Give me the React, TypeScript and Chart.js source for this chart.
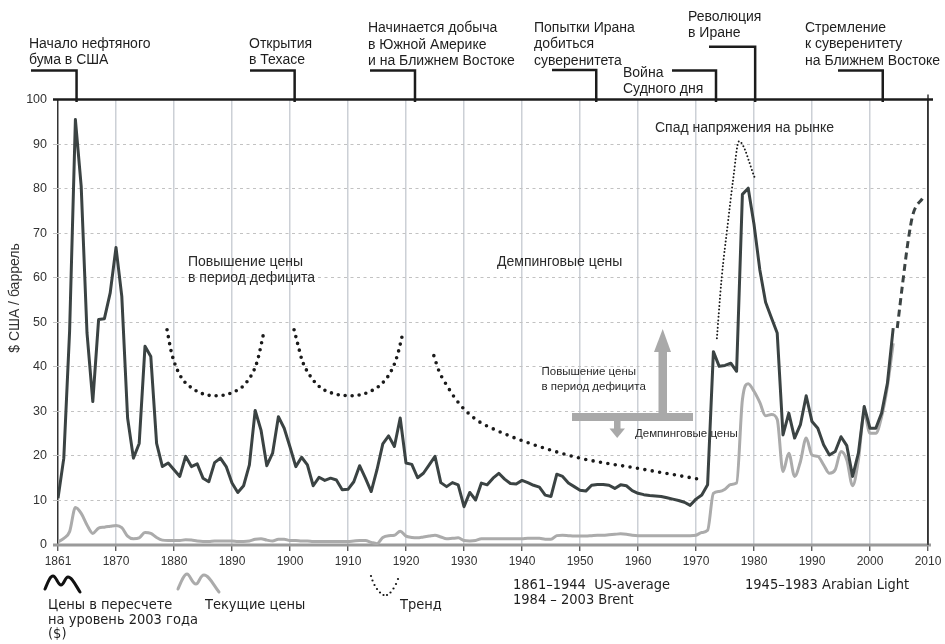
import React, { useEffect, useRef } from 'react';
import { Chart, registerables } from 'chart.js';

Chart.register(...registerables);

// Plot positions of the annual points (first point sits on the left axis, labelled "1861")
const FIRST_POS = 1860;

// Price in 2003 dollars ($/barrel), one value per year
const realPrices = [
  // 1860s
  10.5, 19.5, 48, 95.5, 80.5, 47.6, 32.2, 50.6, 50.8, 56.6,
  // 1870s
  66.8, 55.8, 28.5, 19.5, 22.8, 44.6, 42.3, 22.8, 17.6, 18.4,
  // 1880s
  16.9, 15.4, 19.9, 17.6, 18.2, 15, 14.2, 18.5, 19.5, 17.6,
  // 1890s
  13.9, 11.8, 13.3, 18, 30.2, 25.8, 17.8, 20.6, 28.8, 26.2,
  // 1900s
  22, 17.6, 19.7, 18, 13.3, 15.2, 14.5, 15, 14.6, 12.4,
  // 1910s
  12.5, 14.2, 17.8, 15, 12, 16.9, 22.7, 24.5, 22.1, 28.5,
  // 1920s
  18.4, 18.1, 15.1, 16.1, 18, 19.9, 14, 13.1, 14, 13.5,
  // 1930s
  8.6, 11.8, 10.1, 13.9, 13.5, 15, 16.1, 14.8, 13.8, 13.7,
  // 1940s
  14.5, 14, 13.4, 13, 11.2, 10.9, 15.9, 15.4, 13.9, 13.1,
  // 1950s
  12.3, 12.1, 13.4, 13.6, 13.6, 13.4, 12.7, 13.5, 13.3, 12.2,
  // 1960s
  11.6, 11.3, 11.1, 11, 10.9, 10.6, 10.3, 10, 9.6, 8.9,
  // 1970s
  10.3, 11.2, 13.5, 43.4, 40.1, 40.3, 40.8, 39, 78.7, 80.1,
  // 1980s
  72, 61.8, 54.5, 51, 47.6, 24.7, 29.6, 24, 27, 33.5,
  // 1990s
  27.7, 26.2, 22.5, 20.2, 21, 24.3, 22.3, 15.4, 20.6, 31.1,
  // 2000s
  26.2, 26.2, 29.6, 36.3, 48.7,
];

// Current (nominal) prices
const nominalPrices = [
  0.7, 1.5, 3, 8.4, 7.1, 4.5, 2.6, 3.8, 4, 4.2,
  4.4, 3.9, 2, 1.4, 1.6, 2.8, 2.6, 1.7, 1.1, 1,
  1, 1, 1.2, 1.1, 0.9, 0.8, 0.8, 0.9, 0.9, 0.9,
  0.9, 0.8, 0.8, 0.9, 1.3, 1.4, 1.1, 0.9, 1.3, 1.3,
  1, 1, 0.9, 0.9, 0.8, 0.8, 0.8, 0.8, 0.8, 0.8,
  0.8, 0.9, 1, 1, 0.6, 0.3, 1.7, 2.1, 2.2, 3.1,
  2, 1.7, 1.6, 1.8, 2, 2.2, 1.8, 1.4, 1.5, 1.6,
  1, 0.9, 1, 1.4, 1.4, 1.4, 1.4, 1.4, 1.4, 1.4,
  1.4, 1.5, 1.5, 1.5, 1.3, 1.3, 2.1, 2.2, 2.1, 2,
  2, 2, 2.1, 2.2, 2.2, 2.3, 2.4, 2.5, 2.4, 2.2,
  2.1, 2.1, 2.1, 2.1, 2.1, 2.1, 2.1, 2.1, 2.1, 2.1,
  2.2, 2.8, 3.3, 11.6, 12, 12.5, 13.6, 13.9, 32.6, 36.2,
  34.5, 32, 29, 29.3, 28.2, 16.5, 20.6, 15.4, 18.7, 24,
  20.2, 19.9, 18, 16.1, 16.9, 21, 19.1, 13.3, 19.1, 29.6,
  25.1, 25.1, 28.8, 35.6, 45.3,
];

// Trend curves [position, value]
const trendScarcity1 = [[1878.8, 48.3], [1879.6, 43], [1881, 38.2], [1883, 35.3], [1887, 33.5], [1890, 34.2], [1892.5, 36.5], [1894.3, 41], [1895.5, 47.8]];
const trendScarcity2 = [[1900.7, 48.3], [1901.4, 44.8], [1902.1, 41.4], [1903.4, 38.1], [1905.2, 35.4], [1907.8, 33.9], [1910.6, 33.5], [1913.5, 34.3], [1915.9, 36.3], [1917.5, 39.2], [1918.5, 42.5], [1919.5, 47.8]];
const trendDumping = [[1924.8, 42.5], [1925.7, 39], [1927.1, 35.7], [1928.6, 32.7], [1930.4, 30], [1932.6, 27.7], [1935.5, 25.8], [1940.5, 23.2], [1950, 19.5], [1960, 17.2], [1971.3, 14.6]];
const trendCrisis = [[1973.6, 46.4], [1974.4, 59.6], [1975.5, 72.3], [1976.4, 82], [1977.4, 90.6], [1980.2, 82.2]];
const trendRecent = [[2004.7, 48.7], [2005.7, 59.5], [2006.6, 68.5], [2007.4, 74.2], [2009.1, 77.9]];

const xTickValues = [1860, 1870, 1880, 1890, 1900, 1910, 1920, 1930, 1940, 1950, 1960, 1970, 1980, 1990, 2000, 2010];
const xTickLabels = ['1861', '1870', '1880', '1890', '1900', '1910', '1920', '1930', '1940', '1950', '1960', '1970', '1980', '1990', '2000', '2010'];
const yTickValues = [0, 10, 20, 30, 40, 50, 60, 70, 80, 90, 100];

// Historical events marked on the top axis
const events = [
  { pos: 1863.2, lines: ['Начало нефтяного', 'бума в США'] },
  { pos: 1900.8, lines: ['Открытия', 'в Техасе'] },
  { pos: 1921.55, lines: ['Начинается добыча', 'в Южной Америке', 'и на Ближнем Востоке'] },
  { pos: 1952.8, lines: ['Попытки Ирана', 'добиться', 'суверенитета'] },
  { pos: 1973.45, lines: ['Война', 'Судного дня'] },
  { pos: 1980.2, lines: ['Революция', 'в Иране'] },
  { pos: 2002.2, lines: ['Стремление', 'к суверенитету', 'на Ближнем Востоке'] },
];

// layout of event labels (pixels): text x, first line centre y, connector left x, connector y
const eventLayout = [
  { tx: 29, ty: 44, hx: 31, hy: 70.5 },
  { tx: 249, ty: 44, hx: 250, hy: 70.5 },
  { tx: 368, ty: 28.5, hx: 370, hy: 70.5 },
  { tx: 534, ty: 28.3, hx: 552, hy: 70 },
  { tx: 623, ty: 72.7, hx: 672, hy: 70.5 },
  { tx: 688, ty: 16.7, hx: 709, hy: 46.7 },
  { tx: 805, ty: 28.3, hx: 838, hy: 70.5 },
];

const DARK = '#3b4343';
const LIGHT = '#ababab';
const FONT = '"Liberation Sans", Arial, Helvetica, sans-serif';
const NARROW = '"Liberation Sans Narrow", "DejaVu Sans Condensed", "Liberation Sans", sans-serif';

const toXY = (arr: number[]) => arr.map((v, i) => ({ x: FIRST_POS + i, y: v }));
const pairs = (arr: number[][]) => arr.map(([x, y]) => ({ x, y }));

const annotPlugin = {
  id: 'annot',
  beforeDatasetsDraw(chart: any) {
    const { ctx } = chart;
    const x = chart.scales.x;
    const y = chart.scales.y;
    const xl = x.getPixelForValue(1860);
    const xr = x.getPixelForValue(2010);
    const yt = y.getPixelForValue(100);
    const yb = y.getPixelForValue(0);
    ctx.save();
    // grey arrows
    ctx.fillStyle = '#a9a9a9';
    ctx.fillRect(572, 413, 121, 8);
    ctx.fillRect(658.5, 350, 8.5, 64);
    ctx.beginPath();
    ctx.moveTo(654, 352); ctx.lineTo(671, 352); ctx.lineTo(662.7, 329); ctx.closePath(); ctx.fill();
    ctx.fillRect(614, 420, 6.5, 9);
    ctx.beginPath();
    ctx.moveTo(609.5, 428.5); ctx.lineTo(625, 428.5); ctx.lineTo(617.2, 438); ctx.closePath(); ctx.fill();
    // bottom axis (grey)
    ctx.strokeStyle = '#9a9a9a';
    ctx.lineWidth = 3;
    ctx.beginPath(); ctx.moveTo(xl - 5, yb); ctx.lineTo(xr + 3, yb); ctx.stroke();
    // right axis
    ctx.strokeStyle = '#333';
    ctx.lineWidth = 1.5;
    ctx.beginPath(); ctx.moveTo(xr, yt - 5); ctx.lineTo(xr, yb); ctx.stroke();
    ctx.restore();
  },
  afterDraw(chart: any) {
    const { ctx } = chart;
    const x = chart.scales.x;
    const y = chart.scales.y;
    const xl = x.getPixelForValue(1860);
    const xr = x.getPixelForValue(2010);
    const yt = y.getPixelForValue(100);
    ctx.save();
    // top axis line
    ctx.strokeStyle = '#1c1c1c';
    ctx.lineWidth = 2.5;
    ctx.beginPath(); ctx.moveTo(xl - 5, yt); ctx.lineTo(xr + 5, yt); ctx.stroke();

    // events
    ctx.textBaseline = 'middle';
    ctx.textAlign = 'left';
    ctx.fillStyle = '#1e1e1e';
    ctx.font = `14px ${FONT}`;
    events.forEach((ev, i) => {
      const L = eventLayout[i];
      const px = x.getPixelForValue(ev.pos);
      ev.lines.forEach((s, j) => ctx.fillText(s, L.tx, L.ty + j * 16.2));
      ctx.beginPath();
      ctx.moveTo(L.hx, L.hy);
      ctx.lineTo(px, L.hy);
      ctx.lineTo(px, yt + 2.5);
      ctx.stroke();
    });

    // in-plot notes
    ctx.fillStyle = '#2a2a2a';
    ctx.font = `14px ${FONT}`;
    ctx.fillText('Спад напряжения на рынке', 655, 128.5);
    ctx.fillText('Повышение цены', 188, 261.7);
    ctx.fillText('в период дефицита', 188, 278.3);
    ctx.fillText('Демпинговые цены', 497, 262);
    ctx.font = `11.5px ${FONT}`;
    ctx.fillText('Повышение цены', 541.5, 372.3);
    ctx.fillText('в период дефицита', 541.5, 386.7);
    ctx.fillText('Демпинговые цены', 635, 434);

    // y axis title
    ctx.save();
    ctx.translate(15, 298);
    ctx.rotate(-Math.PI / 2);
    ctx.textAlign = 'center';
    ctx.font = `14px ${FONT}`;
    ctx.fillStyle = '#333';
    ctx.fillText('$ США / баррель', 0, 0);
    ctx.restore();

    // legend
    ctx.lineJoin = 'round';
    ctx.lineCap = 'round';
    ctx.lineWidth = 3;
    ctx.strokeStyle = '#111';
    ctx.beginPath();
    ctx.moveTo(45, 589);
    ctx.bezierCurveTo(48, 582, 50, 576, 53, 576);
    ctx.bezierCurveTo(56, 576, 58, 585, 61, 585);
    ctx.bezierCurveTo(64, 585, 65, 577, 68, 577);
    ctx.bezierCurveTo(72, 577, 76, 586, 80, 592);
    ctx.stroke();
    ctx.strokeStyle = LIGHT;
    ctx.beginPath();
    ctx.moveTo(178, 589);
    ctx.bezierCurveTo(181, 582, 184, 574, 187, 574);
    ctx.bezierCurveTo(190, 574, 192, 584, 196, 584);
    ctx.bezierCurveTo(199, 584, 200, 575, 204, 575);
    ctx.bezierCurveTo(209, 575, 214, 586, 219, 592);
    ctx.stroke();
    ctx.fillStyle = '#111';
    const vdots = [[371, 576], [372.5, 580.5], [374.5, 585], [377, 589], [380, 592.5], [383.5, 595], [387, 595], [390.5, 592.5], [393.5, 588.5], [396, 584], [398, 579]];
    vdots.forEach(([a, b]) => { ctx.beginPath(); ctx.arc(a, b, 1.1, 0, Math.PI * 2); ctx.fill(); });

    ctx.fillStyle = '#1e1e1e';
    ctx.font = `14.5px ${NARROW}`;
    ctx.textBaseline = 'middle';
    ctx.fillText('Цены в пересчете', 48, 605.5);
    ctx.fillText('на уровень 2003 года', 48, 620);
    ctx.fillText('($)', 48, 634.5);
    ctx.fillText('Текущие цены', 205, 605.5);
    ctx.fillText('Тренд', 400, 605.5);
    ctx.fillText('1861–1944  US-average', 513, 585.5);
    ctx.fillText('1984 – 2003 Brent', 513, 600.5);
    ctx.fillText('1945–1983 Arabian Light', 745, 585.5);
    ctx.restore();
  },
};

export default function App() {
  const ref = useRef<HTMLCanvasElement>(null);
  useEffect(() => {
    document.body.style.margin = '0';
    const chart = new Chart(ref.current as HTMLCanvasElement, {
      type: 'line',
      data: {
        datasets: [
          { label: 'trendCrisis', data: pairs(trendCrisis), borderColor: '#1a1a1a', borderWidth: 2, borderDash: [0, 3.6], borderCapStyle: 'round', pointRadius: 0, cubicInterpolationMode: 'monotone' },
          { label: 'trendScarcity1', data: pairs(trendScarcity1), borderColor: '#1a1a1a', borderWidth: 3.6, borderDash: [0, 7], borderCapStyle: 'round', pointRadius: 0, cubicInterpolationMode: 'monotone' },
          { label: 'trendScarcity2', data: pairs(trendScarcity2), borderColor: '#1a1a1a', borderWidth: 3.6, borderDash: [0, 7], borderCapStyle: 'round', pointRadius: 0, cubicInterpolationMode: 'monotone' },
          { label: 'trendDumping', data: pairs(trendDumping), borderColor: '#1a1a1a', borderWidth: 3.6, borderDash: [0, 7.5], borderCapStyle: 'round', pointRadius: 0, cubicInterpolationMode: 'monotone' },
          { label: 'trendRecent', data: pairs(trendRecent), borderColor: DARK, borderWidth: 3, borderDash: [7, 4.5], pointRadius: 0, cubicInterpolationMode: 'monotone' },
          { label: 'real', data: toXY(realPrices), borderColor: DARK, borderWidth: 3, pointRadius: 0, tension: 0, borderJoinStyle: 'round' },
          { label: 'nominal', data: toXY(nominalPrices), borderColor: LIGHT, borderWidth: 3, pointRadius: 0, cubicInterpolationMode: 'monotone' },
        ] as any,
      },
      options: {
        responsive: false,
        animation: false,
        layout: { padding: { top: 99.5, right: 17, left: 0, bottom: 0 } },
        plugins: { legend: { display: false }, tooltip: { enabled: false } },
        scales: {
          x: {
            type: 'linear',
            min: 1860,
            max: 2010,
            afterFit: (s: any) => { s.height = 99; },
            afterBuildTicks: (s: any) => { s.ticks = xTickValues.map((v) => ({ value: v })); },
            ticks: {
              autoSkip: false,
              maxRotation: 0,
              padding: 3,
              color: '#333',
              font: { family: FONT, size: 12 },
              callback: (_v: any, i: number) => xTickLabels[i],
            },
            grid: {
              color: (c: any) => (c.tick && (c.tick.value === 1860 || c.tick.value === 2010) ? '#333' : '#ccd0d6'),
              lineWidth: 1.5,
              tickLength: 6,
              tickColor: '#444',
              tickWidth: 1.2,
            },
            border: { display: false },
          },
          y: {
            min: 0,
            max: 100,
            afterFit: (s: any) => { s.width = 58; },
            afterBuildTicks: (s: any) => { s.ticks = yTickValues.map((v) => ({ value: v })); },
            ticks: {
              padding: 6,
              color: '#333',
              font: { family: FONT, size: 12.5 },
            },
            grid: {
              color: (c: any) => (c.tick && (c.tick.value === 0 || c.tick.value === 100) ? 'rgba(0,0,0,0)' : '#c2c2c2'),
              lineWidth: 1,
              tickLength: 5,
              tickColor: '#c2c2c2',
            },
            border: { display: false, dash: [3, 3.5] },
          },
        },
      },
      plugins: [annotPlugin],
    } as any);
    return () => chart.destroy();
  }, []);
  return <canvas ref={ref} width={945} height={644} style={{ display: 'block' }} />;
}
